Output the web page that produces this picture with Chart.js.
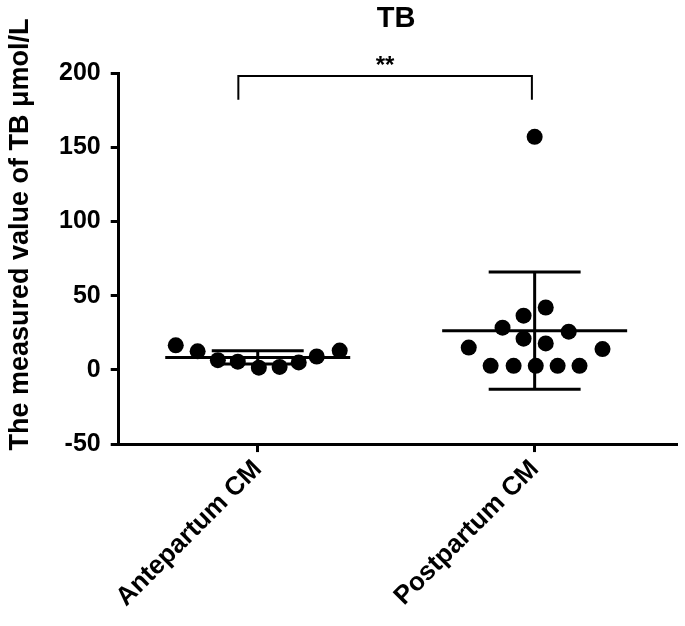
<!DOCTYPE html>
<html>
<head>
<meta charset="utf-8">
<script src="https://cdn.jsdelivr.net/npm/chart.js@4/dist/chart.umd.min.js"></script>
<style>
  html, body { margin: 0; padding: 0; background: #fff; }
  #wrap { width: 685px; height: 626px; }
</style>
</head>
<body>
<div id="wrap"><canvas id="c" width="685" height="626"></canvas></div>
<script>
// ---- data ----
const categories = ['Antepartum CM', 'Postpartum CM'];
const antepartumValues = [16.5, 12.5, 6.5, 5.5, 1.5, 2, 5, 9, 13];
const postpartumValues = [15, 2.7, 28.4, 2.7, 36.5, 21, 2.7, 157, 42, 17.8, 2.7, 25.7, 2.7, 14];
const groupMeans = [8.4, 26.4];
const groupSD = [4.5, 39.5];
const yTicks = [-50, 0, 50, 100, 150, 200];
const chartTitle = 'TB';
const yAxisTitle = 'The measured value of TB μmol/L';
const significance = '**';
const bracketY = [182, 198];

// ---- layout helpers (scatter spread within a category, in category units) ----
const antepartumJitter = [-0.296, -0.217, -0.144, -0.072, 0.004, 0.079, 0.148, 0.213, 0.296];
const postpartumJitter = [-0.238, -0.159, -0.116, -0.076, -0.040, -0.040, 0.004, 0, 0.040, 0.040, 0.083, 0.123, 0.162, 0.245];
const bracketX = [-0.07, 0.99];
const meanHalf = 0.334;
const capHalf = 0.166;

const FONT = "'Liberation Sans', Arial, sans-serif";

function pts(values, jitter, idx) {
  return values.map((v, i) => ({ x: idx + jitter[i], y: v }));
}
function lineDs(data) {
  return {
    type: 'scatter', data, showLine: true, pointRadius: 0, borderColor: '#000',
    borderWidth: 3, order: 0, spanGaps: false, borderCapStyle: 'butt'
  };
}
const errorDatasets = [];
groupMeans.forEach((m, i) => {
  const sd = groupSD[i];
  errorDatasets.push(lineDs([{ x: i - meanHalf, y: m }, { x: i + meanHalf, y: m }]));
  errorDatasets.push(lineDs([{ x: i - capHalf, y: m + sd }, { x: i + capHalf, y: m + sd }]));
  errorDatasets.push(lineDs([{ x: i - capHalf, y: m - sd }, { x: i + capHalf, y: m - sd }]));
  errorDatasets.push(lineDs([{ x: i, y: m - sd }, { x: i, y: m + sd }]));
});
const bracketDs = lineDs([
  { x: bracketX[0], y: bracketY[0] }, { x: bracketX[0], y: bracketY[1] },
  { x: bracketX[1], y: bracketY[1] }, { x: bracketX[1], y: bracketY[0] }
]);
bracketDs.borderWidth = 2;
bracketDs.clip = false;

const pointStyle = {
  type: 'scatter', pointRadius: 8, pointHoverRadius: 8, backgroundColor: '#000',
  borderColor: '#000', borderWidth: 0, showLine: false, order: 1
};

const annotPlugin = {
  id: 'annot',
  afterDraw(chart) {
    const ctx = chart.ctx;
    const xs = chart.scales.x, ys = chart.scales.y;
    const ca = chart.chartArea;
    ctx.save();
    ctx.fillStyle = '#000';
    ctx.textAlign = 'center';
    ctx.textBaseline = 'middle';
    ctx.font = 'bold 29px ' + FONT;
    ctx.fillText(chartTitle, 396, 19);
    ctx.font = 'bold 24px ' + FONT;
    const mx = xs.getPixelForValue((bracketX[0] + bracketX[1]) / 2);
    ctx.fillText(significance, mx, ys.getPixelForValue(bracketY[1]) - 10);
    // y axis title
    ctx.save();
    ctx.translate(21, (ca.top + ca.bottom) / 2 - 24);
    ctx.rotate(-Math.PI / 2);
    ctx.font = 'bold 27px ' + FONT;
    ctx.fillText(yAxisTitle, 0, 0);
    ctx.restore();
    ctx.restore();
  }
};

new Chart(document.getElementById('c'), {
  type: 'scatter',
  data: {
    datasets: [
      Object.assign({ data: pts(antepartumValues, antepartumJitter, 0) }, pointStyle),
      Object.assign({ data: pts(postpartumValues, postpartumJitter, 1) }, pointStyle),
      ...errorDatasets,
      bracketDs
    ]
  },
  options: {
    responsive: false,
    animation: false,
    devicePixelRatio: 1,
    layout: { padding: { top: 73, right: 0, left: 49, bottom: 11 } },
    plugins: { legend: { display: false }, tooltip: { enabled: false }, title: { display: false } },
    scales: {
      x: {
        type: 'linear',
        min: -0.502, max: 1.514,
        afterBuildTicks(scale) { scale.ticks = categories.map((c, i) => ({ value: i })); },
        ticks: {
          callback: (v) => categories[v],
          minRotation: 45, maxRotation: 45, autoSkip: false,
          color: '#000', font: { family: FONT, weight: 'bold', size: 26 }, padding: 2
        },
        grid: { display: true, drawOnChartArea: false, drawTicks: true, tickLength: 8, tickWidth: 3, tickColor: '#000' },
        border: { display: true, color: '#000', width: 3 }
      },
      y: {
        min: -50, max: 200,
        afterBuildTicks(scale) { scale.ticks = yTicks.map(v => ({ value: v })); },
        ticks: { color: '#000', font: { family: FONT, weight: 'bold', size: 25 }, padding: 10 },
        grid: { display: true, drawOnChartArea: false, drawTicks: true, tickLength: 8, tickWidth: 3, tickColor: '#000' },
        border: { display: true, color: '#000', width: 3 },
        title: { display: false }
      }
    }
  },
  plugins: [annotPlugin]
});
</script>
</body>
</html>
